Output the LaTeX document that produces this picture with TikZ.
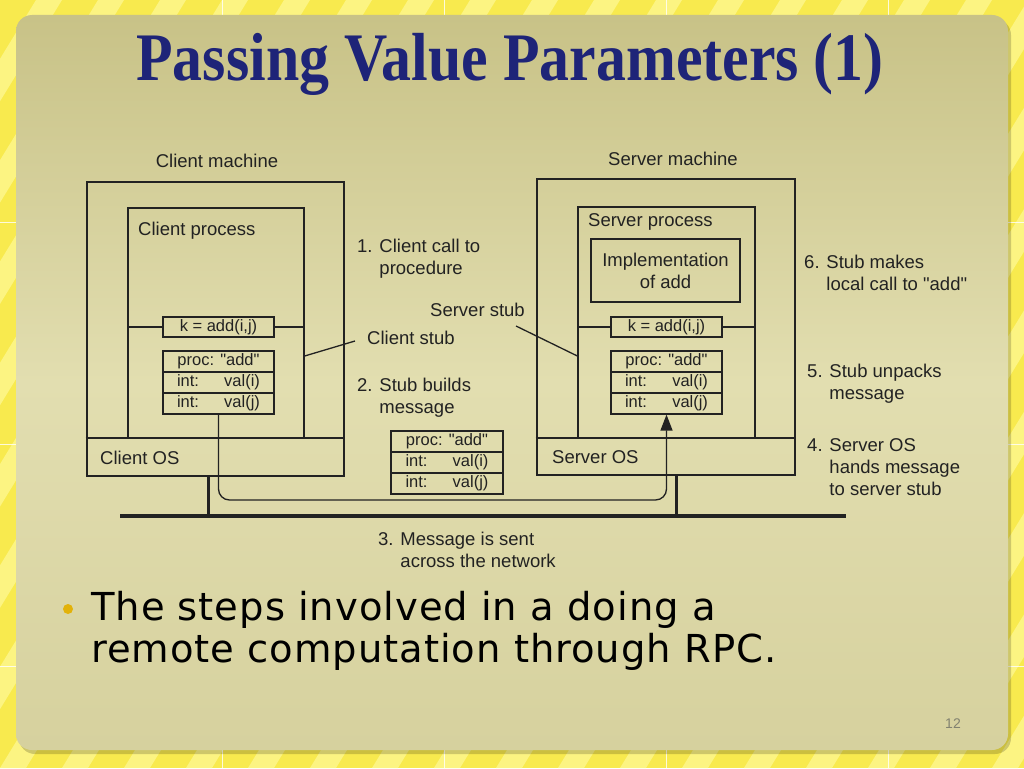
\documentclass[tikz,border=0pt]{standalone}
\usepackage{fontspec}
\usepackage{graphicx}
\setmainfont{Liberation Sans}
\setmonofont{Liberation Sans}
\newfontfamily\titlefont{Liberation Serif}
\newfontfamily\bodyfont{DejaVu Sans}[LetterSpace=2.5]
\newcommand\qq{{\ttfamily"}}
\usetikzlibrary{arrows.meta,calc}
\definecolor{ink}{RGB}{34,34,34}
\definecolor{bordery}{RGB}{248,234,78}
\definecolor{stripey}{RGB}{252,244,130}
\definecolor{paneltop}{RGB}{200,194,135}
\definecolor{panelmid}{RGB}{226,222,176}
\definecolor{panelbot}{RGB}{214,209,158}
\definecolor{titleblue}{RGB}{30,36,120}
\definecolor{bulletgold}{RGB}{226,178,10}
\definecolor{pagegray}{RGB}{130,130,112}
\begin{document}
\begin{tikzpicture}[x=1pt,y=-1pt,
  lbl/.style={font=\fontsize{18.5}{22}\selectfont, inner sep=0pt, align=left, text=ink},
  machine/.style={draw=ink, line width=2.6pt, inner sep=0pt},
  procbox/.style={draw=ink, line width=1.3pt, inner sep=0pt},
  msgrow/.style={draw=ink, line width=1.2pt, minimum width=111pt, minimum height=21pt, inner sep=0pt,
    font=\fontsize{16.5}{18}\selectfont, text=ink},
  thin/.style={draw=ink, line width=1.3pt}]
\useasboundingbox (0,0) rectangle (1024,768);
% background border with stripes
\fill[bordery] (0,0) rectangle (1024,768);
\begin{scope}
\clip (0,0) rectangle (1024,768);
\foreach \i in {-10,...,20}{
  \fill[stripey] (\i*62,768) -- (\i*62+26,768) -- (\i*62+26+470,0) -- (\i*62+470,0) -- cycle;
}
\foreach \gx in {222,444,666,888}{
  \draw[white, line width=0.6pt, opacity=0.8] (\gx,0) -- (\gx,768);
}
\foreach \gy in {222,444,666}{
  \draw[white, line width=0.6pt, opacity=0.8] (0,\gy) -- (1024,\gy);
}
\end{scope}
% panel
\fill[black, opacity=0.18, rounded corners=16pt] (19,19) rectangle (1011,754);
\shade[top color=paneltop, bottom color=panelbot, middle color=panelmid, rounded corners=16pt]
  (16,15) rectangle (1008,750);
% title
\node[anchor=base, inner sep=0pt, text=titleblue] (title) at (510,80)
  {\scalebox{0.88}[1]{\titlefont\bfseries\fontsize{68}{70}\selectfont Passing Value Parameters (1)}};

% client side
\node[machine, minimum width=257pt, minimum height=294pt] (cmach) at (215.5,329) {};
\node[procbox, minimum width=176pt, minimum height=230pt] (cproc) at (216,323) {};
\draw[thin] (cmach.west |- 0,438) -- (cmach.east |- 0,438);
\node[lbl, anchor=center] (cmachl) at (217,161) {Client machine};
\node[lbl, anchor=west] (cprocl) at (138,231) {Client process};
\node[lbl, anchor=west] (cosl) at (100,458) {Client OS};
\node[msgrow, minimum height=20pt] (ck) at (218.5,327) {k = add(i,j)};
\draw[thin] (cproc.west |- ck.west) -- (ck.west);
\draw[thin] (ck.east) -- (cproc.east |- ck.east);
\node[msgrow] (cm1) at (218.5,361.5) {proc: \qq add\qq};
\node[msgrow] (cm2) at (218.5,382.5) {\makebox[83pt]{int:\hfill val(i)}};
\node[msgrow] (cm3) at (218.5,403.5) {\makebox[83pt]{int:\hfill val(j)}};

% server side
\node[machine, minimum width=258pt, minimum height=296pt] (smach) at (666,327) {};
\node[procbox, minimum width=177pt, minimum height=231pt] (sproc) at (666.5,322.5) {};
\draw[thin] (smach.west |- 0,438) -- (smach.east |- 0,438);
\node[lbl, anchor=center] (smachl) at (673,159) {Server machine};
\node[lbl, anchor=west] (sprocl) at (588,222) {Server process};
\node[procbox, minimum width=149pt, minimum height=63pt, align=center,
  font=\fontsize{18.5}{22}\selectfont, text=ink] (impl) at (665.5,270.5) {Implementation\\of add};
\node[lbl, anchor=west] (sosl) at (552,457) {Server OS};
\node[msgrow, minimum height=20pt] (sk) at (666.5,327) {k = add(i,j)};
\draw[thin] (sproc.west |- sk.west) -- (sk.west);
\draw[thin] (sk.east) -- (sproc.east |- sk.east);
\node[msgrow] (sm1) at (666.5,361.5) {proc: \qq add\qq};
\node[msgrow] (sm2) at (666.5,382.5) {\makebox[83pt]{int:\hfill val(i)}};
\node[msgrow] (sm3) at (666.5,403.5) {\makebox[83pt]{int:\hfill val(j)}};

% message in transit
\node[msgrow, minimum width=112pt] (mm1) at (447,441.5) {proc: \qq add\qq};
\node[msgrow, minimum width=112pt] (mm2) at (447,462.5) {\makebox[83pt]{int:\hfill val(i)}};
\node[msgrow, minimum width=112pt] (mm3) at (447,483.5) {\makebox[83pt]{int:\hfill val(j)}};

% network
\coordinate (netL) at (120,516);
\coordinate (netR) at (846,516);
\draw[ink, line width=3.6pt] (netL) -- (netR);
\coordinate (cdrop) at (208,476);
\coordinate (sdrop) at (676,475);
\draw[ink, line width=3pt] (cdrop) -- (cdrop |- netL);
\draw[ink, line width=3pt] (sdrop) -- (sdrop |- netL);

% message path
\draw[ink, line width=1.3pt, rounded corners=11pt, -{Triangle[length=16pt,width=12pt]}]
  (cm3.south) -- (cm3.south |- 0,500) -- (sm3.south |- 0,500) -- (sm3.south);

% step labels
\node[lbl, anchor=west] (s1) at (357,259) {1. Client call to\\\phantom{1. }procedure};
\node[lbl, anchor=west] (sstub) at (430,310) {Server stub};
\node[lbl, anchor=west] (cstub) at (367,338) {Client stub};
\node[lbl, anchor=west] (s2) at (357,398) {2. Stub builds\\\phantom{2. }message};
\node[lbl, anchor=west] (s3) at (378,550) {3. Message is sent\\\phantom{3. }across the network};
\node[lbl, anchor=west] (s6) at (804,273) {6. Stub makes\\\phantom{6. }local call to \qq add\qq};
\node[lbl, anchor=west] (s5) at (807,384) {5. Stub unpacks\\\phantom{5. }message};
\node[lbl, anchor=west] (s4) at (807,467) {4. Server OS\\\phantom{4. }hands message\\\phantom{4. }to server stub};

\draw[thin] (cproc.east |- 0,356) -- ([xshift=-12pt,yshift=-3pt]cstub.west);
\draw[thin] ([xshift=-9pt,yshift=-16pt]sstub.east) -- (sproc.west |- 0,356);

% bullet
\fill[bulletgold] (68,609) circle (5pt);
\node[anchor=base west, inner sep=0pt, align=left, text=black,
  font=\bodyfont\fontsize{38.5}{42}\selectfont] (bullet) at (91,662)
  {The steps involved in a doing a\\remote computation through RPC.};
\node[text=pagegray, font=\fontsize{14}{16}\selectfont, inner sep=0pt] (pnum) at (953,724) {12};
\end{tikzpicture}
\end{document}
